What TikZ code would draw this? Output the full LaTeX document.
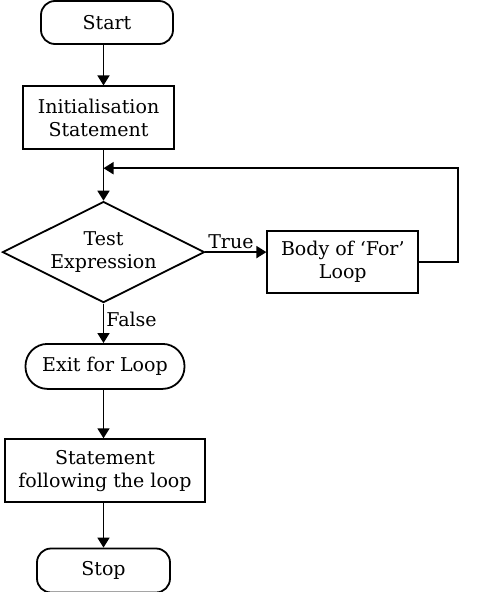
\documentclass[tikz,border=0pt]{standalone}
\usepackage{fontspec}
\setmainfont{DejaVu Serif}
\usepackage{tikz}
\usetikzlibrary{calc,positioning,shapes.geometric,arrows.meta}
\tikzset{
flow_font/.style={font=\fontsize{19}{23}\selectfont},
terminal_box/.style={rectangle, rounded corners=14pt, draw, line width=1.8pt, minimum width=132pt, minimum height=43pt, inner sep=0pt, align=center, flow_font},
process_box/.style={rectangle, draw, line width=1.8pt, minimum width=151pt, minimum height=63pt, inner sep=0pt, align=center, flow_font},
decision/.style={diamond, aspect=2, draw, line width=1.8pt, minimum width=202pt, minimum height=101pt, inner sep=0pt, align=center, flow_font},
flow_label/.style={inner sep=2pt, flow_font},
flow_line/.style={line width=1.8pt, -{Triangle[length=10pt,width=12pt]}}
}

\begin{document}
\begin{tikzpicture}
    \useasboundingbox (0,0) rectangle (479pt,-592pt);
    \node[terminal_box] (start) at (107pt,-22.5pt) {Start};
    \node[process_box] (init_stmt) [below=40.5pt of start, xshift=-8.5pt] {Initialisation\\Statement};
    \node[decision] (test_expr) [below=50.5pt of init_stmt, xshift=5pt] {Test\\Expression};
    \coordinate (loop_in) at ($(init_stmt.south -| test_expr.north)+(0,-18pt)$);
    \node[process_box, minimum height=62pt] (body_loop) [right=61pt of test_expr, yshift=-10pt] {Body of ‘For’\\Loop};
    \node[terminal_box, rounded corners=22pt, minimum width=159pt, minimum height=45pt] (exit_loop) [below=39.5pt of test_expr, xshift=1.5pt] {Exit for Loop};
    \node[process_box, minimum width=200pt] (next_stmt) [below=48.5pt of exit_loop] {Statement\\following the loop};
    \node[terminal_box, minimum width=133pt, minimum height=44pt] (stop) [below=44.5pt of next_stmt, xshift=-1.5pt] {Stop};
    \draw[flow_line] (start.south -| test_expr.north) -- (init_stmt.north -| test_expr.north);
    \draw[flow_line] (init_stmt.south -| test_expr.north) -- (test_expr.north);
    \draw[flow_line] (test_expr.east) -- (test_expr.east -| body_loop.west) node[flow_label, pos=0, anchor=south west] {True};
    \draw[flow_line] (body_loop.east) -- ++(39pt,0) |- (loop_in);
    \draw[flow_line] (test_expr.south) -- (test_expr.south |- exit_loop.north) node[flow_label, pos=0.4, right] {False};
    \draw[flow_line] (exit_loop.south -| test_expr.south) -- (next_stmt.north -| test_expr.south);
    \draw[flow_line] (next_stmt.south -| test_expr.south) -- (stop.north -| test_expr.south);
\end{tikzpicture}
\end{document}
